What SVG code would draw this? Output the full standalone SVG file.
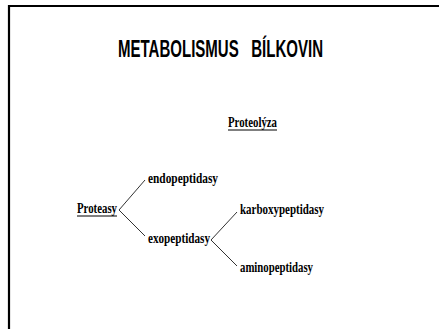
<svg xmlns="http://www.w3.org/2000/svg" width="439" height="329" viewBox="0 0 439 329">
<style>
.t{font-family:"Liberation Serif","Times New Roman",serif;font-weight:bold;font-size:15px;fill:#000}
.u{stroke:#000;stroke-width:1.2}
.c{stroke:#333;stroke-width:1;fill:none}
</style>
<rect x="0" y="0" width="439" height="329" fill="#fff"/>
<path d="M9,329 V6 H439" fill="none" stroke="#000" stroke-width="2.2"/>
<g id="title"><text x="118" y="57" font-family="Liberation Sans,Arial,sans-serif" font-weight="bold" font-size="24" textLength="205" lengthAdjust="spacingAndGlyphs" xml:space="preserve">METABOLISMUS   BÍLKOVIN</text></g>
<g id="proteolyza"><text class="t" x="228" y="127" textLength="49" lengthAdjust="spacingAndGlyphs">Proteolýza</text><line class="u" x1="228" y1="130" x2="277" y2="130"/></g>
<g id="proteasy"><text class="t" x="77" y="213" textLength="40" lengthAdjust="spacingAndGlyphs">Proteasy</text><line class="u" x1="77" y1="216" x2="117" y2="216"/></g>
<g id="endopeptidasy"><text class="t" x="148" y="183" textLength="70" lengthAdjust="spacingAndGlyphs">endopeptidasy</text></g>
<g id="exopeptidasy"><text class="t" x="148" y="243" textLength="62" lengthAdjust="spacingAndGlyphs">exopeptidasy</text></g>
<g id="karboxypeptidasy"><text class="t" x="240" y="214" textLength="84" lengthAdjust="spacingAndGlyphs">karboxypeptidasy</text></g>
<g id="aminopeptidasy"><text class="t" x="240" y="272" textLength="73" lengthAdjust="spacingAndGlyphs">aminopeptidasy</text></g>
<g id="connectors">
<polyline class="c" points="145,180 119,210 145,236"/>
<polyline class="c" points="237,212 211,240 237,266"/>
</g>
</svg>
